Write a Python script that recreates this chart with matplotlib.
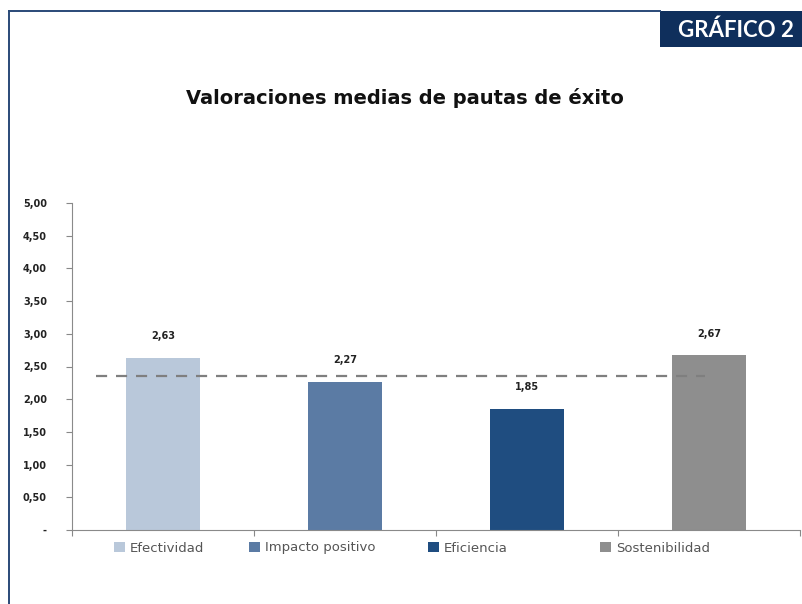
import matplotlib
matplotlib.use("Agg")
import matplotlib.pyplot as plt
from matplotlib.patches import Rectangle

# data
categorias = ["Efectividad", "Impacto positivo", "Eficiencia", "Sostenibilidad"]
valores = [2.63, 2.27, 1.85, 2.67]
etiquetas = ["2,63", "2,27", "1,85", "2,67"]
media = 2.36
colores = ["#b9c8da", "#5b7ba4", "#1f4d80", "#8e8e8e"]
yticks = [0, 0.5, 1, 1.5, 2, 2.5, 3, 3.5, 4, 4.5, 5]
yticklabels = ["-", "0,50", "1,00", "1,50", "2,00", "2,50", "3,00", "3,50", "4,00", "4,50", "5,00"]
# left edge of each legend entry, in pixels
leg_x = [114, 249, 428, 600]

plt.rcParams['font.family'] = ['DejaVu Sans']

fig = plt.figure(figsize=(8.03, 6.04), dpi=100)
fig.patch.set_facecolor("white")

# frame lines + banner
navy = "#0f2f5c"
fig.add_artist(plt.Line2D([9/803, 9/803], [0, 1 - 11/604], color="#2a4a78", lw=1.4,
                          transform=fig.transFigure))
fig.add_artist(plt.Line2D([9/803, 660/803], [1 - 11/604, 1 - 11/604], color="#2a4a78", lw=1.4,
                          transform=fig.transFigure))
fig.add_artist(Rectangle((660/803, 1 - 47/604), 143/803, 36/604, transform=fig.transFigure,
                         facecolor=navy, edgecolor="none"))
fig.text(736/803, 1 - 30/604, "GRÁFICO 2", color="white", fontsize=16, fontweight="bold",
         family=["Lato", "DejaVu Sans"], ha="center", va="center")

fig.text(405/803, 1 - 98/604, "Valoraciones medias de pautas de éxito", fontsize=14,
         fontweight="bold", ha="center", va="center", color="#111111")

ax = fig.add_axes([72/803, 1 - 530/604, 728/803, 327/604])
x = range(len(categorias))
bars = ax.bar(x, valores, width=0.41, color=colores)
for xi, v, t in zip(x, valores, etiquetas):
    ax.annotate(t, (xi, v), xytext=(0, 12), textcoords="offset points", ha="center",
                va="bottom", fontsize=7, fontweight="bold", color="#222222")

ax.plot([-0.37, 2.98], [media, media], color="#7f7f7f", lw=1.6, ls=(0, (5, 4)))

ax.set_xlim(-0.5, 3.5)
ax.set_ylim(0, 5)
ax.set_yticks(yticks)
ax.set_yticklabels(yticklabels, fontsize=7, fontweight="bold", color="#222222")
ax.set_xticks([-0.5, 0.5, 1.5, 2.5, 3.5])
ax.set_xticklabels([])
ax.tick_params(axis="y", length=4, color="#888888", pad=14)
ax.tick_params(axis="x", length=4, color="#888888", direction="out")
for s in ["top", "right"]:
    ax.spines[s].set_visible(False)
ax.spines["left"].set_color("#8a8a8a")
ax.spines["bottom"].set_color("#8a8a8a")

# one legend per entry so they can sit where the reference has them
for b, lab, px in zip(bars, categorias, leg_x):
    lg = fig.legend([b], [lab], loc="center left", bbox_to_anchor=(px/803, 1 - 548/604),
                    frameon=False, fontsize=9.5, handlelength=0.8, handleheight=0.8,
                    handletextpad=0.4, borderpad=0, borderaxespad=0, labelcolor="#555555")

fig.savefig("out.png", dpi=100)
